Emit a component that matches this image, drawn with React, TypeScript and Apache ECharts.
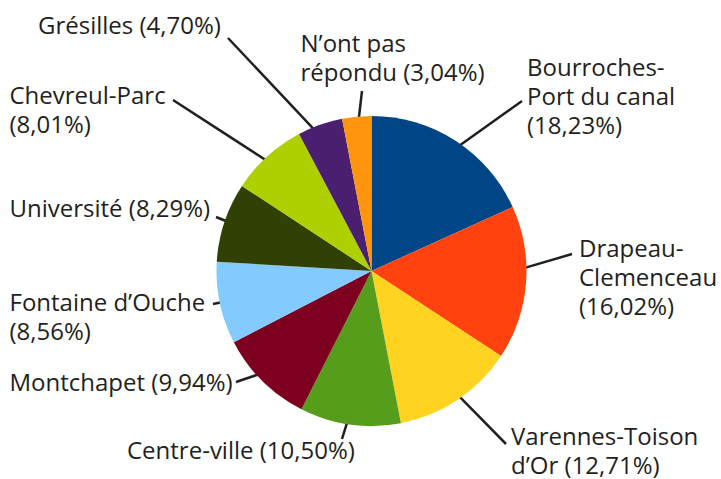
import React, { useEffect, useRef } from "react";
import * as echarts from "echarts";

// Districts, clockwise from 12 o'clock
const names: string[] = [
  "Bourroches-\nPort du canal",
  "Drapeau-\nClemenceau",
  "Varennes-Toison\nd’Or",
  "Centre-ville",
  "Montchapet",
  "Fontaine d’Ouche",
  "Université",
  "Chevreul-Parc",
  "Grésilles",
  "N’ont pas\nrépondu",
];
// Share of answers (%)
const values: number[] = [18.23, 16.02, 12.71, 10.5, 9.94, 8.56, 8.29, 8.01, 4.7, 3.04];
// separator between name and percentage
const separators: string[] = ["\n", "\n", " ", " ", " ", "\n", " ", "\n", " ", " "];
const colors: string[] = [
  "#004586", "#ff420e", "#ffd320", "#579d1c", "#7e0021",
  "#83caff", "#314004", "#aecf00", "#4b1f6f", "#ff950e",
];

// Label layout: [label left x, label top y, leader end x, leader end y, leader start radius fraction]
const labelLayouts: number[][] = [
  [527, 52, 522, 101, 0.89],
  [579, 233, 572, 254, 0.73],
  [511, 421, 506, 444, 0.88],
  [127, 435, 342, 439, 0.86],
  [9.5, 367, 236, 382, 0.89],
  [9.5, 287, 213, 304, 0.8],
  [9.5, 193, 216, 217, 0.83],
  [9.5, 80, 173, 100, 0.9],
  [38, 10, 228, 38, 0.88],
  [300.5, 28, 362, 91, 0.93],
];

const CENTER = [371.5, 271];
const RADIUS = 155;

const fmt = (v: number) => v.toFixed(2).replace(".", ",");

export default function App() {
  const ref = useRef<HTMLDivElement>(null);
  useEffect(() => {
    if (!ref.current) return;
    const chart = echarts.init(ref.current, null, { renderer: "svg" });
    const total = values.reduce((a, b) => a + b, 0);
    const cum: number[] = [];
    values.reduce((acc, v, i) => {
      cum[i] = acc;
      return acc + v;
    }, 0);

    const data = values.map((v, i) => ({
      value: v,
      name: names[i],
      itemStyle: { color: colors[i] },
    }));

    chart.setOption({
      animation: false,
      backgroundColor: "#ffffff",
      series: [
        {
          type: "pie",
          center: CENTER,
          radius: RADIUS,
          startAngle: 90,
          clockwise: true,
          silent: true,
          avoidLabelOverlap: false,
          data,
          itemStyle: { borderWidth: 0 },
          label: {
            show: true,
            position: "outside",
            formatter: (p: any) =>
              `${names[p.dataIndex]}${separators[p.dataIndex]}(${fmt(values[p.dataIndex])}%)`,
            fontFamily: "Open Sans",
            fontSize: 24,
            lineHeight: 29,
            color: "#231f20",
          },
          labelLine: {
            show: true,
            showAbove: true,
            length: 20,
            length2: 10,
            lineStyle: { color: "#231f20", width: 2.5 },
          },
          labelLayout: (params: any) => {
            const i = params.dataIndex;
            const L = labelLayouts[i];
            const mid = ((cum[i] + values[i] / 2) / total) * Math.PI * 2;
            const r = RADIUS * L[4];
            const sx = CENTER[0] + r * Math.sin(mid);
            const sy = CENTER[1] - r * Math.cos(mid);
            return {
              x: L[0],
              y: L[1],
              align: "left",
              verticalAlign: "top",
              labelLinePoints: [
                [sx, sy],
                [(sx + L[2]) / 2, (sy + L[3]) / 2],
                [L[2], L[3]],
              ],
            };
          },
        },
      ],
    });
    return () => chart.dispose();
  }, []);
  return (
    <div
      ref={ref}
      style={{ position: "absolute", left: 0, top: 0, width: 721, height: 479 }}
    />
  );
}
